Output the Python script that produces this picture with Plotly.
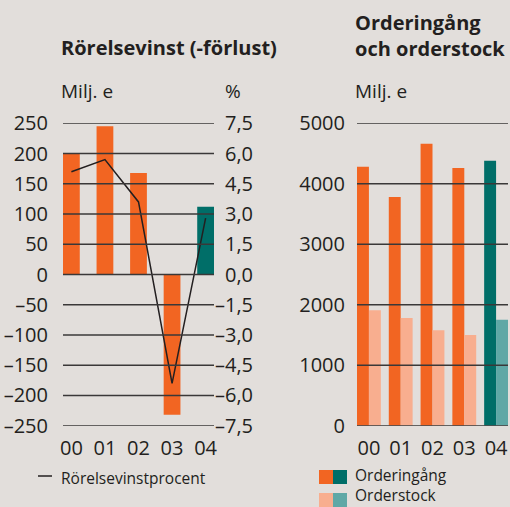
import plotly.graph_objects as go

# ---- data ----
years = ["00", "01", "02", "03", "04"]
operating_profit = [200, 245, 168, -232, 112]          # Milj. e
operating_margin = [5.1, 5.7, 3.6, -5.4, 2.8]           # %
orders_received = [4280, 3780, 4660, 4260, 4380]        # Milj. e
order_stock = [1910, 1780, 1580, 1500, 1750]            # Milj. e

profit_ticks = [250, 200, 150, 100, 50, 0, -50, -100, -150, -200, -250]
margin_ticks = [7.5, 6.0, 4.5, 3.0, 1.5, 0.0, -1.5, -3.0, -4.5, -6.0, -7.5]
order_ticks = [0, 1000, 2000, 3000, 4000, 5000]

# ---- style ----
W, H = 510, 507
BG = "#e2dedb"
TXT = "#231f20"
GRID = "#3a3838"
ORANGE = "#f26522"
TEAL = "#006e68"
LORANGE = "#f8ae8f"
LTEAL = "#5fa8a6"
FONT = "Open Sans"
TICK = 20


def px(x):
    return x / W


def py(y):
    return 1 - y / H


def fmt_int(v):
    return ("\u2013" if v < 0 else "") + str(abs(v))


def fmt_dec(v):
    return ("\u2013" if v < 0 else "") + f"{abs(v):.1f}".replace(".", ",")


ydom = [py(425.7), py(123.3)]
current = [ORANGE] * 4 + [TEAL]
current_l = [LORANGE] * 4 + [LTEAL]

fig = go.Figure()
fig.add_trace(go.Bar(x=years, y=operating_profit, width=0.5, marker_color=current,
                     marker_line_width=0, xaxis="x", yaxis="y"))
fig.add_trace(go.Scatter(x=years, y=operating_margin, mode="lines",
                         line=dict(color=TXT, width=1.5), xaxis="x", yaxis="y2"))
fig.add_trace(go.Bar(x=years, y=orders_received, width=0.375, offset=-0.375,
                     marker_color=current, marker_line_width=0, xaxis="x2", yaxis="y3"))
fig.add_trace(go.Bar(x=years, y=order_stock, width=0.375, offset=0,
                     marker_color=current_l, marker_line_width=0, xaxis="x2", yaxis="y3"))

tickfont = dict(family=FONT, size=TICK, color=TXT)
common_y = dict(showgrid=False, zeroline=False, showline=False, ticks="",
                tickfont=tickfont, fixedrange=True, automargin=False)
common_x = dict(type="category", showgrid=False, zeroline=False, showline=False,
                ticks="", tickfont=tickfont, ticklabelstandoff=8, automargin=False,
                fixedrange=True)

fig.update_layout(
    template="none",
    width=W, height=H, autosize=False,
    margin=dict(l=0, r=0, t=0, b=0, pad=0, autoexpand=False),
    paper_bgcolor=BG, plot_bgcolor=BG, showlegend=False, barmode="overlay",
    font=dict(family=FONT, color=TXT),
    xaxis=dict(domain=[px(63), px(214)], anchor="y", range=[-0.25, 4.25], **common_x),
    yaxis=dict(domain=ydom, anchor="x", range=[-250, 250], tickvals=profit_ticks,
               ticktext=[fmt_int(v) for v in profit_ticks], ticklabelstandoff=14,
               **common_y),
    yaxis2=dict(overlaying="y", anchor="free", position=px(261), side="left",
                range=[-7.5, 7.5], tickvals=margin_ticks,
                ticktext=[fmt_dec(v) for v in margin_ticks], ticklabelstandoff=8,
                **common_y),
    xaxis2=dict(domain=[px(357), px(508)], anchor="y3", range=[-0.375, 4.375],
                **common_x),
    yaxis3=dict(domain=ydom, anchor="x2", range=[0, 5000], tickvals=order_ticks,
                ticktext=[str(v) for v in order_ticks], ticklabelstandoff=11,
                **common_y),
)

shapes = []
for v in profit_ticks:
    shapes.append(dict(type="line", xref="x domain", yref="y", x0=0, x1=1, y0=v, y1=v,
                       layer="above", line=dict(color=GRID, width=1.5)))
for v in order_ticks:
    shapes.append(dict(type="line", xref="x2 domain", yref="y3", x0=0, x1=1, y0=v, y1=v,
                       layer="above", line=dict(color=GRID, width=1.5)))
# legend markers
shapes.append(dict(type="line", xref="paper", yref="paper", x0=px(38), x1=px(52),
                   y0=py(476), y1=py(476), line=dict(color=TXT, width=1.5)))
for (x0, x1, y0, y1, c) in [(319, 333, 470, 484, ORANGE), (333, 347, 470, 484, TEAL),
                            (319, 333, 493, 507, LORANGE), (333, 347, 493, 507, LTEAL)]:
    shapes.append(dict(type="rect", xref="paper", yref="paper", x0=px(x0), x1=px(x1),
                       y0=py(y1), y1=py(y0), fillcolor=c, line=dict(width=0)))
fig.update_layout(shapes=shapes)


def note(text, x, y, size, bold=False, yanchor="middle", pad=1):
    t = f"<b>{text}</b>" if bold else text
    fig.add_annotation(text=t, x=px(x), y=py(y), xref="paper", yref="paper",
                       xanchor="left", yanchor=yanchor, align="left", showarrow=False,
                       borderpad=pad, font=dict(family=FONT, size=size, color=TXT))


note("Rörelsevinst (-förlust)", 59, 47, 20, bold=True)
note("<b>Orderingång</b><br><b>och orderstock</b>", 353, 35, 20)
note("Milj. e", 59, 91, 19)
note("%", 223, 91, 19)
note("Milj. e", 353, 91, 19)
note("Rörelsevinstprocent", 59, 478, 15.5)
note("Orderingång<br>Orderstock", 354, 507, 15.5, yanchor="bottom", pad=0)

fig.write_html(
    "out.html",
    config={"displayModeBar": False, "responsive": False, "staticPlot": True},
    post_script=(
        "document.documentElement.style.margin='0';"
        "document.body.style.margin='0';"
        "document.body.style.padding='0';"
        "document.body.style.overflow='hidden';"
        f"document.body.style.background='{BG}';"
    ),
)
